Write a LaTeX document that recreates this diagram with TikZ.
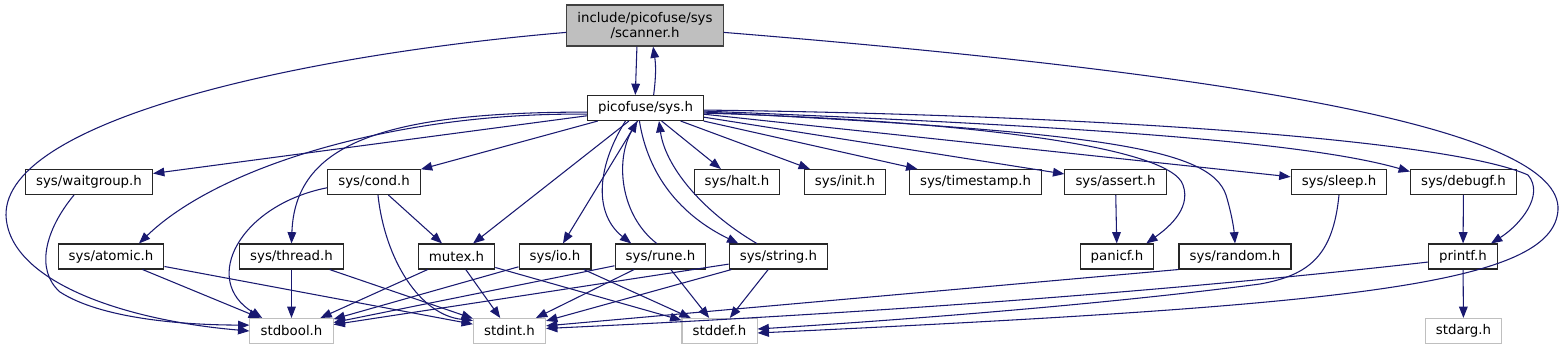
\documentclass[tikz,border=0pt]{standalone}
\usepackage{fontspec}
\setmainfont{DejaVu Sans}
\usepackage{xcolor}
\usetikzlibrary{arrows.meta}
\definecolor{edgeblue}{HTML}{191970}
\definecolor{leafgray}{HTML}{BFBFBF}

\begin{document}
\begin{tikzpicture}[
    x=0.75pt, y=-0.75pt,
    font=\fontsize{10}{11.5}\selectfont,
    hdr/.style={rectangle, draw=black!85, line width=0.8pt, fill=white, inner xsep=8pt, inner ysep=0pt, minimum height=18.75pt},
    leaf/.style={hdr, draw=leafgray},
    cur/.style={hdr, fill=leafgray, draw=black!75, minimum height=30.75pt, align=center},
    arrow/.style={-{Triangle[length=8.5pt,width=6.5pt]}, draw=edgeblue, line width=0.8pt}
]
    \useasboundingbox (0,0) rectangle (1564,351);

    \node[cur] (scanner) at (645,25.5) {include/picofuse/sys\\/scanner.h};
    \node[hdr] (sys) at (645.5,108) {picofuse/sys.h};

    \node[hdr] (waitgroup) at (89,182) {sys/waitgroup.h};
    \node[hdr] (cond) at (374,182) {sys/cond.h};
    \node[hdr] (halt) at (737,182) {sys/halt.h};
    \node[hdr] (init) at (845,182) {sys/init.h};
    \node[hdr] (timestamp) at (975.5,182) {sys/timestamp.h};
    \node[hdr] (assert) at (1115.5,182) {sys/assert.h};
    \node[hdr] (sleep) at (1339,182) {sys/sleep.h};
    \node[hdr] (debugf) at (1463.5,182) {sys/debugf.h};

    \node[hdr] (atomic) at (111,256.5) {sys/atomic.h};
    \node[hdr] (thread) at (291.5,256.5) {sys/thread.h};
    \node[hdr] (mutex) at (456.5,256.5) {mutex.h};
    \node[hdr] (io) at (555,256.5) {sys/io.h};
    \node[hdr] (rune) at (660.5,256.5) {sys/rune.h};
    \node[hdr] (string) at (778.5,256.5) {sys/string.h};
    \node[hdr] (panicf) at (1117,256.5) {panicf.h};
    \node[hdr] (random) at (1235,256.5) {sys/random.h};
    \node[hdr] (printf) at (1463,256.5) {printf.h};

    \node[leaf] (stdbool) at (291.5,331) {stdbool.h};
    \node[leaf] (stdint) at (509.5,331) {stdint.h};
    \node[leaf] (stddef) at (719.5,331) {stddef.h};
    \node[leaf] (stdarg) at (1463.5,331) {stdarg.h};

    \draw[arrow] (scanner.-111) -- (sys.128);
    \draw[arrow] (sys.58) to[bend right=8] (scanner.-69);
    \draw[arrow] (scanner.185) .. controls (300,55) and (5,120) .. (6,215) .. controls (8,280) and (120,320) .. (stdbool.180);
    \draw[arrow] (scanner.-5) .. controls (1250,75) and (1562,130) .. (1558,210) .. controls (1553,285) and (1350,305) .. (stddef.-3);

    \draw[arrow] (sys) -- (waitgroup);
    \draw[arrow] (sys.186) .. controls (400,112) and (220,165) .. (atomic.25);
    \draw[arrow] (sys) -- (cond);
    \draw[arrow] (sys.184) .. controls (380,112) and (295,145) .. (thread.north);
    \draw[arrow] (sys) -- (mutex);
    \draw[arrow] (sys) -- (io);
    \draw[arrow] (sys.-147) .. controls (595,170) and (595,215) .. (rune.156);
    \draw[arrow] (rune.106) .. controls (620,215) and (615,160) .. (sys.-122);
    \draw[arrow] (sys.-115) .. controls (648,175) and (680,215) .. (string.162);
    \draw[arrow] (string.149) .. controls (700,210) and (665,165) .. (sys.-44);
    \draw[arrow] (sys) -- (halt);
    \draw[arrow] (sys) -- (init);
    \draw[arrow] (sys) -- (timestamp);
    \draw[arrow] (sys) -- (assert);
    \draw[arrow] (sys.-5) .. controls (950,120) and (1170,145) .. (1183,185) .. controls (1192,210) and (1165,230) .. (panicf.24);
    \draw[arrow] (sys.-4) .. controls (1100,132) and (1210,148) .. (1226,195) .. controls (1232,215) and (1234,230) .. (random.north);
    \draw[arrow] (sys) -- (sleep);
    \draw[arrow] (sys.-3) .. controls (1050,125) and (1300,140) .. (debugf.169);
    \draw[arrow] (sys.-2) .. controls (1100,115) and (1450,140) .. (1528,175) .. controls (1545,195) and (1520,225) .. (printf.25);

    \draw[arrow] (waitgroup.-139) .. controls (45,230) and (35,270) .. (60,292) .. controls (100,318) and (180,325) .. (stdbool.172);
    \draw[arrow] (cond) -- (mutex);
    \draw[arrow] (cond.187) .. controls (240,205) and (200,280) .. (stdbool.156);
    \draw[arrow] (cond.-73) .. controls (385,260) and (420,315) .. (stdint.164);
    \draw[arrow] (assert) -- (panicf);
    \draw[arrow] (debugf) -- (printf);
    \draw[arrow] (sleep.south) .. controls (1333,255) and (1310,275) .. (1260,284) .. controls (1100,305) and (900,320) .. (stddef.3);

    \draw[arrow] (atomic) -- (stdbool);
    \draw[arrow] (atomic) -- (stdint);
    \draw[arrow] (thread) -- (stdbool);
    \draw[arrow] (thread) -- (stdint);
    \draw[arrow] (mutex) -- (stdbool);
    \draw[arrow] (mutex) -- (stdint);
    \draw[arrow] (mutex) -- (stddef);
    \draw[arrow] (io) -- (stdbool);
    \draw[arrow] (io) -- (stddef);
    \draw[arrow] (rune) -- (stdbool);
    \draw[arrow] (rune) -- (stdint);
    \draw[arrow] (rune) -- (stddef);
    \draw[arrow] (string) -- (stdbool);
    \draw[arrow] (string) -- (stdint);
    \draw[arrow] (string) -- (stddef);
    \draw[arrow] (random.south west) -- (stdint.8);
    \draw[arrow] (printf.189) .. controls (1200,288) and (900,312) .. (stdint.4);
    \draw[arrow] (printf) -- (stdarg);
\end{tikzpicture}
\end{document}
